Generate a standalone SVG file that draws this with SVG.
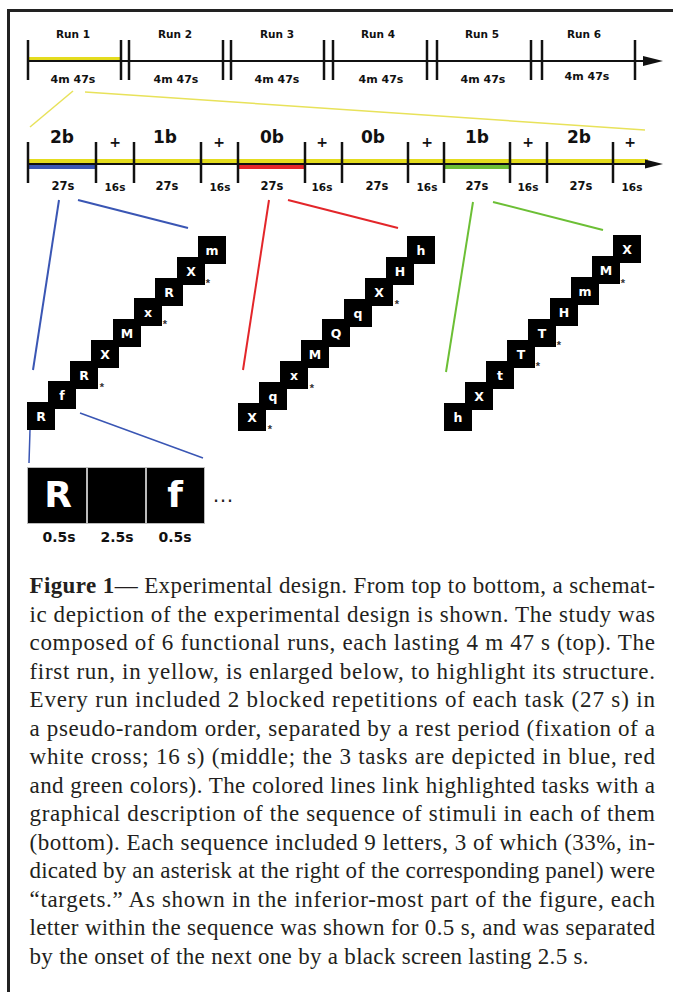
<svg xmlns="http://www.w3.org/2000/svg" width="673" height="992" viewBox="0 0 673 992">
<defs>
<style>
.lbl{font-family:"DejaVu Sans","Liberation Sans",Arial,sans-serif;font-weight:bold;fill:#111;text-anchor:middle}
.run{font-size:10.5px}
.rd{font-size:11px}
.task{font-size:17px}
.plus{font-size:14px}
.d27{font-size:11.5px}
.d16{font-size:10.5px}
.box{fill:#000}
.bl{font-family:"DejaVu Sans","Liberation Sans",Arial,sans-serif;font-weight:bold;fill:#fff;text-anchor:middle;font-size:12.5px}
.ast{font-family:"Liberation Sans",Arial,sans-serif;font-weight:bold;fill:#333;text-anchor:middle;font-size:11px}
.tick{stroke:#111;stroke-width:2.5}
.axis{stroke:#111;stroke-width:2}
.cap{font-family:"Liberation Serif","Times New Roman",serif;font-size:23px;fill:#231f20}
</style>
</defs>
<rect width="673" height="992" fill="#fff"/>
<!-- frame -->
<path d="M8.5,992 V10.5 H673" fill="none" stroke="#222" stroke-width="3"/>

<!-- top timeline -->
<g id="runs-timeline">
<rect x="28" y="57" width="93" height="3" fill="#e4dc1e"/>
<line class="axis" x1="28" y1="61" x2="648" y2="61"/>
<polygon points="643,56 663,61 643,66" fill="#111"/>
<line class="tick" x1="28" y1="40" x2="28" y2="80"/>
<line class="tick" x1="121" y1="40" x2="121" y2="80"/>
<line class="tick" x1="129" y1="40" x2="129" y2="80"/>
<line class="tick" x1="223" y1="40" x2="223" y2="80"/>
<line class="tick" x1="231" y1="40" x2="231" y2="80"/>
<line class="tick" x1="324" y1="40" x2="324" y2="80"/>
<line class="tick" x1="333" y1="40" x2="333" y2="80"/>
<line class="tick" x1="427" y1="40" x2="427" y2="80"/>
<line class="tick" x1="437" y1="40" x2="437" y2="80"/>
<line class="tick" x1="531" y1="40" x2="531" y2="80"/>
<line class="tick" x1="542" y1="40" x2="542" y2="80"/>
<line class="tick" x1="635" y1="40" x2="635" y2="80"/>
<text class="lbl run" x="73" y="38">Run 1</text>
<text class="lbl run" x="175" y="38">Run 2</text>
<text class="lbl run" x="277" y="38">Run 3</text>
<text class="lbl run" x="378" y="38">Run 4</text>
<text class="lbl run" x="482" y="38">Run 5</text>
<text class="lbl run" x="584" y="38">Run 6</text>
<text class="lbl rd" x="73" y="83">4m 47s</text>
<text class="lbl rd" x="176" y="83">4m 47s</text>
<text class="lbl rd" x="277" y="83">4m 47s</text>
<text class="lbl rd" x="381" y="83">4m 47s</text>
<text class="lbl rd" x="483" y="83">4m 47s</text>
<text class="lbl rd" x="587" y="80">4m 47s</text>
</g>

<!-- run 1 detail timeline -->
<g id="run1-timeline">
<rect x="28" y="159" width="620" height="4" fill="#e4dc1e"/>
<rect x="28" y="165" width="68" height="4" fill="#3a56b4"/>
<rect x="238" y="165" width="67" height="4" fill="#e3262a"/>
<rect x="444" y="165" width="66" height="4" fill="#6cbf35"/>
<line class="axis" x1="28" y1="164" x2="648" y2="164"/>
<polygon points="645,159.5 663,164 645,168.5" fill="#111"/>
<line class="tick" x1="28" y1="142" x2="28" y2="183"/>
<line class="tick" x1="96" y1="142" x2="96" y2="183"/>
<line class="tick" x1="134" y1="142" x2="134" y2="183"/>
<line class="tick" x1="201" y1="142" x2="201" y2="183"/>
<line class="tick" x1="238" y1="142" x2="238" y2="183"/>
<line class="tick" x1="305" y1="142" x2="305" y2="183"/>
<line class="tick" x1="342" y1="142" x2="342" y2="183"/>
<line class="tick" x1="408" y1="142" x2="408" y2="183"/>
<line class="tick" x1="444" y1="142" x2="444" y2="183"/>
<line class="tick" x1="510" y1="142" x2="510" y2="183"/>
<line class="tick" x1="547" y1="142" x2="547" y2="183"/>
<line class="tick" x1="613" y1="142" x2="613" y2="183"/>
<text class="lbl task" x="62" y="143">2b</text>
<text class="lbl plus" x="115" y="147">+</text>
<text class="lbl task" x="165" y="143">1b</text>
<text class="lbl plus" x="219" y="147">+</text>
<text class="lbl task" x="272" y="143">0b</text>
<text class="lbl plus" x="322" y="147">+</text>
<text class="lbl task" x="373" y="143">0b</text>
<text class="lbl plus" x="427" y="147">+</text>
<text class="lbl task" x="477" y="143">1b</text>
<text class="lbl plus" x="528" y="147">+</text>
<text class="lbl task" x="579" y="143">2b</text>
<text class="lbl plus" x="630" y="147">+</text>
<text class="lbl d27" x="63" y="190">27s</text>
<text class="lbl d16" x="115" y="191">16s</text>
<text class="lbl d27" x="167" y="190">27s</text>
<text class="lbl d16" x="220" y="191">16s</text>
<text class="lbl d27" x="272" y="190">27s</text>
<text class="lbl d16" x="322" y="191">16s</text>
<text class="lbl d27" x="377" y="190">27s</text>
<text class="lbl d16" x="427" y="191">16s</text>
<text class="lbl d27" x="477" y="190">27s</text>
<text class="lbl d16" x="528" y="191">16s</text>
<text class="lbl d27" x="581" y="190">27s</text>
<text class="lbl d16" x="632" y="191">16s</text>
</g>

<!-- connectors -->
<g id="connectors" fill="none" stroke-width="2">
<line x1="73" y1="91" x2="30" y2="127" stroke="#e8e25a" stroke-width="1.5"/>
<line x1="85" y1="92" x2="645" y2="130" stroke="#e8e25a" stroke-width="1.5"/>
<line x1="59" y1="200" x2="33" y2="370" stroke="#3a56b4"/>
<line x1="78" y1="200" x2="188" y2="228" stroke="#3a56b4"/>
<line x1="30" y1="430" x2="29" y2="463" stroke="#3a56b4" stroke-width="1.5"/>
<line x1="80" y1="413" x2="203" y2="458" stroke="#3a56b4" stroke-width="1.5"/>
<line x1="269" y1="200" x2="243" y2="370" stroke="#e3262a"/>
<line x1="288" y1="200" x2="398" y2="228" stroke="#e3262a"/>
<line x1="473" y1="202" x2="446" y2="372" stroke="#6cbf35"/>
<line x1="493" y1="202" x2="603" y2="230" stroke="#6cbf35"/>
</g>

<!-- blue sequence (2-back) -->
<g id="seq-blue">
<rect class="box" x="27" y="402" width="28" height="28"/><text class="bl" x="41" y="421">R</text>
<rect class="box" x="48" y="381" width="28" height="28"/><text class="bl" x="62" y="400">f</text>
<rect class="box" x="70" y="361" width="28" height="28"/><text class="bl" x="84" y="380">R</text>
<rect class="box" x="91" y="340" width="28" height="28"/><text class="bl" x="105" y="359">X</text>
<rect class="box" x="113" y="319" width="28" height="28"/><text class="bl" x="127" y="338">M</text>
<rect class="box" x="134" y="298" width="28" height="28"/><text class="bl" x="148" y="317">x</text>
<rect class="box" x="155" y="278" width="28" height="28"/><text class="bl" x="169" y="297">R</text>
<rect class="box" x="177" y="257" width="28" height="28"/><text class="bl" x="191" y="276">X</text>
<rect class="box" x="198" y="236" width="28" height="28"/><text class="bl" x="212" y="255">m</text>
<text class="ast" x="102" y="391">*</text>
<text class="ast" x="165" y="328">*</text>
<text class="ast" x="208" y="287">*</text>
</g>

<!-- red sequence (0-back) -->
<g id="seq-red">
<rect class="box" x="238" y="403" width="28" height="28"/><text class="bl" x="252" y="422">X</text>
<rect class="box" x="259" y="382" width="28" height="28"/><text class="bl" x="273" y="401">q</text>
<rect class="box" x="280" y="361" width="28" height="28"/><text class="bl" x="294" y="380">x</text>
<rect class="box" x="301" y="340" width="28" height="28"/><text class="bl" x="315" y="359">M</text>
<rect class="box" x="322" y="319" width="28" height="28"/><text class="bl" x="336" y="338">Q</text>
<rect class="box" x="344" y="299" width="28" height="28"/><text class="bl" x="358" y="318">q</text>
<rect class="box" x="365" y="278" width="28" height="28"/><text class="bl" x="379" y="297">X</text>
<rect class="box" x="386" y="257" width="28" height="28"/><text class="bl" x="400" y="276">H</text>
<rect class="box" x="407" y="236" width="28" height="28"/><text class="bl" x="421" y="255">h</text>
<text class="ast" x="270" y="433">*</text>
<text class="ast" x="312" y="392">*</text>
<text class="ast" x="397" y="308">*</text>
</g>

<!-- green sequence (1-back) -->
<g id="seq-green">
<rect class="box" x="444" y="403" width="28" height="28"/><text class="bl" x="458" y="422">h</text>
<rect class="box" x="465" y="382" width="28" height="28"/><text class="bl" x="479" y="401">X</text>
<rect class="box" x="486" y="361" width="28" height="28"/><text class="bl" x="500" y="380">t</text>
<rect class="box" x="507" y="340" width="28" height="28"/><text class="bl" x="521" y="359">T</text>
<rect class="box" x="528" y="319" width="28" height="28"/><text class="bl" x="542" y="338">T</text>
<rect class="box" x="550" y="298" width="28" height="28"/><text class="bl" x="564" y="317">H</text>
<rect class="box" x="571" y="277" width="28" height="28"/><text class="bl" x="585" y="296">m</text>
<rect class="box" x="592" y="256" width="28" height="28"/><text class="bl" x="606" y="275">M</text>
<rect class="box" x="613" y="235" width="28" height="28"/><text class="bl" x="627" y="254">X</text>
<text class="ast" x="538" y="370">*</text>
<text class="ast" x="559" y="349">*</text>
<text class="ast" x="623" y="287">*</text>
</g>

<!-- timing detail -->
<g id="timing">
<rect x="27" y="467" width="178" height="57" fill="#bbb"/>
<rect class="box" x="28" y="468" width="58" height="55"/>
<rect class="box" x="88" y="468" width="57" height="55"/>
<rect class="box" x="147" y="468" width="57" height="55"/>
<text x="58" y="507" font-family="DejaVu Sans,Liberation Sans,Arial,sans-serif" font-weight="bold" font-size="36" fill="#fff" text-anchor="middle">R</text>
<text x="175" y="507" font-family="DejaVu Sans,Liberation Sans,Arial,sans-serif" font-weight="bold" font-size="36" fill="#fff" text-anchor="middle">f</text>
<text x="223" y="502" font-family="Liberation Sans,Arial,sans-serif" font-size="22" fill="#222" text-anchor="middle">…</text>
<text class="lbl" x="59" y="542" font-size="14">0.5s</text>
<text class="lbl" x="117" y="542" font-size="14">2.5s</text>
<text class="lbl" x="175" y="542" font-size="14">0.5s</text>
</g>

<!-- caption -->
<g id="caption" class="cap">
<text x="29.5" y="593" textLength="625.5" lengthAdjust="spacing"><tspan font-weight="bold">Figure 1</tspan>— Experimental design. From top to bottom, a schemat-</text>
<text x="29.5" y="621.5" textLength="625.5" lengthAdjust="spacing">ic depiction of the experimental design is shown. The study was</text>
<text x="29.5" y="650" textLength="625.5" lengthAdjust="spacing">composed of 6 functional runs, each lasting 4 m 47 s (top). The</text>
<text x="29.5" y="678.5" textLength="625.5" lengthAdjust="spacing">first run, in yellow, is enlarged below, to highlight its structure.</text>
<text x="29.5" y="707" textLength="625.5" lengthAdjust="spacing">Every run included 2 blocked repetitions of each task (27 s) in</text>
<text x="29.5" y="735.5" textLength="625.5" lengthAdjust="spacing">a pseudo-random order, separated by a rest period (fixation of a</text>
<text x="29.5" y="764" textLength="625.5" lengthAdjust="spacing">white cross; 16 s) (middle; the 3 tasks are depicted in blue, red</text>
<text x="29.5" y="792.5" textLength="625.5" lengthAdjust="spacing">and green colors). The colored lines link highlighted tasks with a</text>
<text x="29.5" y="821" textLength="625.5" lengthAdjust="spacing">graphical description of the sequence of stimuli in each of them</text>
<text x="29.5" y="849.5" textLength="625.5" lengthAdjust="spacing">(bottom). Each sequence included 9 letters, 3 of which (33%, in-</text>
<text x="29.5" y="878" textLength="625.5" lengthAdjust="spacing">dicated by an asterisk at the right of the corresponding panel) were</text>
<text x="29.5" y="906.5" textLength="625.5" lengthAdjust="spacing">“targets.” As shown in the inferior-most part of the figure, each</text>
<text x="29.5" y="935" textLength="625.5" lengthAdjust="spacing">letter within the sequence was shown for 0.5 s, and was separated</text>
<text x="29.5" y="963.5" textLength="559" lengthAdjust="spacing">by the onset of the next one by a black screen lasting 2.5 s.</text>
</g>
</svg>
